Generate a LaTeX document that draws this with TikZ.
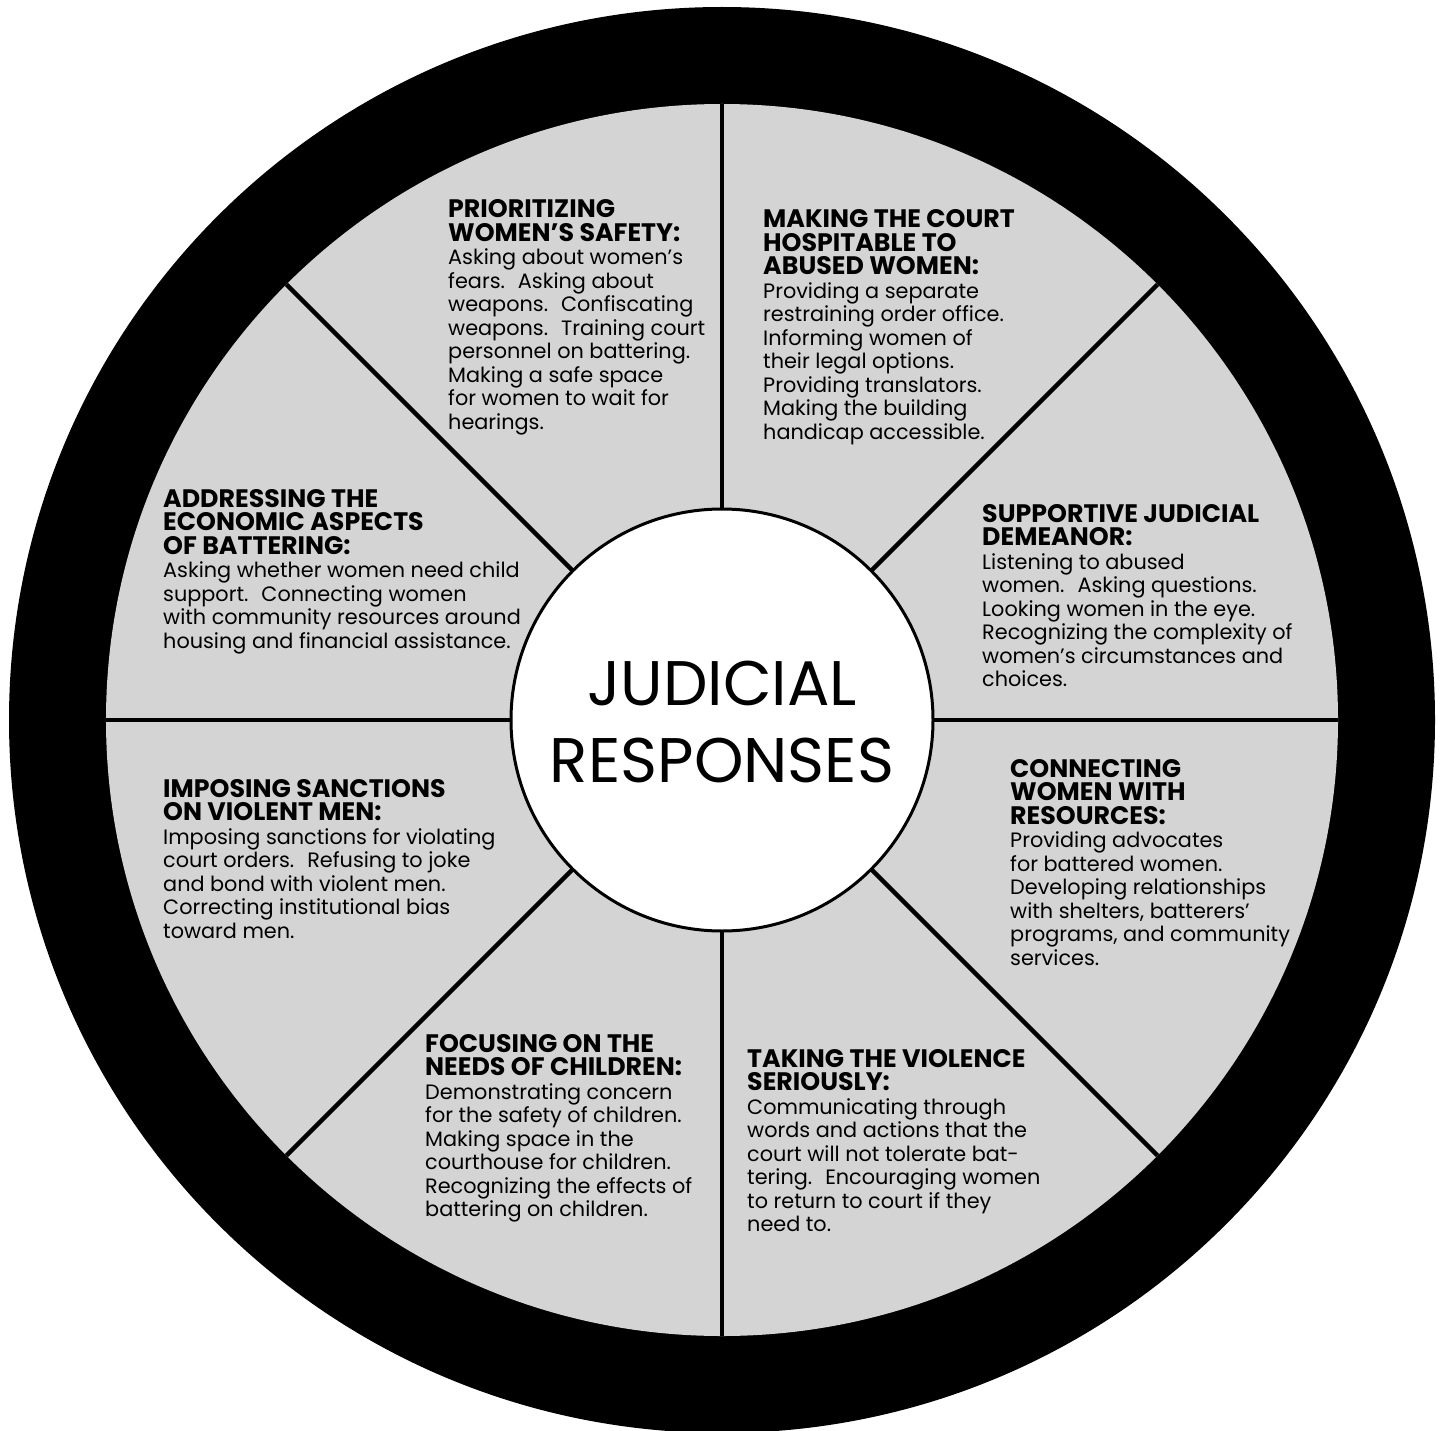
\documentclass[tikz,border=0pt]{standalone}
\usepackage{fontspec}
\setmainfont{Poppins}
\definecolor{wheelgray}{RGB}{212,212,212}
\newcommand\HdL[1]{\hbox{\fontsize{25.3}{23.5}\bfseries #1}}
\newcommand\BdL[1]{\hbox{\fontsize{20.8}{23.5}\selectfont #1}}
\newcommand\Blk[1]{\vtop{\baselineskip=23.5pt\lineskiplimit=-100pt\lineskip=0pt #1}}
\tikzset{blocktext/.style={anchor=base west,inner sep=0pt,text=black}}
\begin{document}
\begin{tikzpicture}[x=1pt,y=-1pt]
\useasboundingbox (0,0) rectangle (1443,1431);
\fill[white] (0,0) rectangle (1443,1431);
\coordinate (C) at (722,720);
\fill[black] (C) circle[radius=713pt];
\fill[wheelgray] (C) circle[radius=616pt];
\draw[line width=4.5pt] (722,104) -- (722,1336);
\draw[line width=4.5pt] (106,720) -- (1338,720);
\draw[line width=4.5pt] (286.4,284.4) -- (1157.6,1155.6);
\draw[line width=4.5pt] (1157.6,284.4) -- (286.4,1155.6);
\draw[line width=3pt,fill=white] (C) circle[radius=211pt];

\node[anchor=base,inner sep=0pt] (title) at (722,705)
  {\fontsize{63}{77}\selectfont\vtop{\baselineskip=77pt\lineskiplimit=-100pt\halign{\hfil#\hfil\cr JUDICIAL\cr RESPONSES\cr}}};

\node[blocktext] (prio) at (448,218) {\Blk{%
\HdL{PRIORITIZING}\HdL{WOMEN’S SAFETY:}%
\BdL{Asking about women’s}\BdL{fears.~ Asking about}\BdL{weapons.~ Confiscating}%
\BdL{weapons.~ Training court}\BdL{personnel on battering.}\BdL{Making a safe space}%
\BdL{for women to wait for}\BdL{hearings.}}};

\node[blocktext] (court) at (763,228) {\Blk{%
\HdL{MAKING THE COURT}\HdL{HOSPITABLE TO}\HdL{ABUSED WOMEN:}%
\BdL{Providing a separate}\BdL{restraining order office.}\BdL{Informing women of}%
\BdL{their legal options.}\BdL{Providing translators.}\BdL{Making the building}%
\BdL{handicap accessible.}}};

\node[blocktext] (demeanor) at (982,522) {\Blk{%
\HdL{SUPPORTIVE JUDICIAL}\HdL{DEMEANOR:}%
\BdL{Listening to abused}\BdL{women.~ Asking questions.}\BdL{Looking women in the eye.}%
\BdL{Recognizing the complexity of}\BdL{women’s circumstances and}\BdL{choices.}}};

\node[blocktext] (resources) at (1010,777) {\Blk{%
\HdL{CONNECTING}\HdL{WOMEN WITH}\HdL{RESOURCES:}%
\BdL{Providing advocates}\BdL{for battered women.}\BdL{Developing relationships}%
\BdL{with shelters, batterers’}\BdL{programs, and community}\BdL{services.}}};

\node[blocktext] (violence) at (747,1067) {\Blk{%
\HdL{TAKING THE VIOLENCE}\HdL{SERIOUSLY:}%
\BdL{Communicating through}\BdL{words and actions that the}\BdL{court will not tolerate bat-}%
\BdL{tering.~ Encouraging women}\BdL{to return to court if they}\BdL{need to.}}};

\node[blocktext] (children) at (425,1052) {\Blk{%
\HdL{FOCUSING ON THE}\HdL{NEEDS OF CHILDREN:}%
\BdL{Demonstrating concern}\BdL{for the safety of children.}\BdL{Making space in the}%
\BdL{courthouse for children.}\BdL{Recognizing the effects of}\BdL{battering on children.}}};

\node[blocktext] (sanctions) at (163,797) {\Blk{%
\HdL{IMPOSING SANCTIONS}\HdL{ON VIOLENT MEN:}%
\BdL{Imposing sanctions for violating}\BdL{court orders.~ Refusing to joke}%
\BdL{and bond with violent men.}\BdL{Correcting institutional bias}\BdL{toward men.}}};

\node[blocktext] (economic) at (163,507) {\Blk{%
\HdL{ADDRESSING THE}\HdL{ECONOMIC ASPECTS}\HdL{OF BATTERING:}%
\BdL{Asking whether women need child}\BdL{support.~ Connecting women}%
\BdL{with community resources around}\BdL{housing and financial assistance.}}};
\end{tikzpicture}
\end{document}
